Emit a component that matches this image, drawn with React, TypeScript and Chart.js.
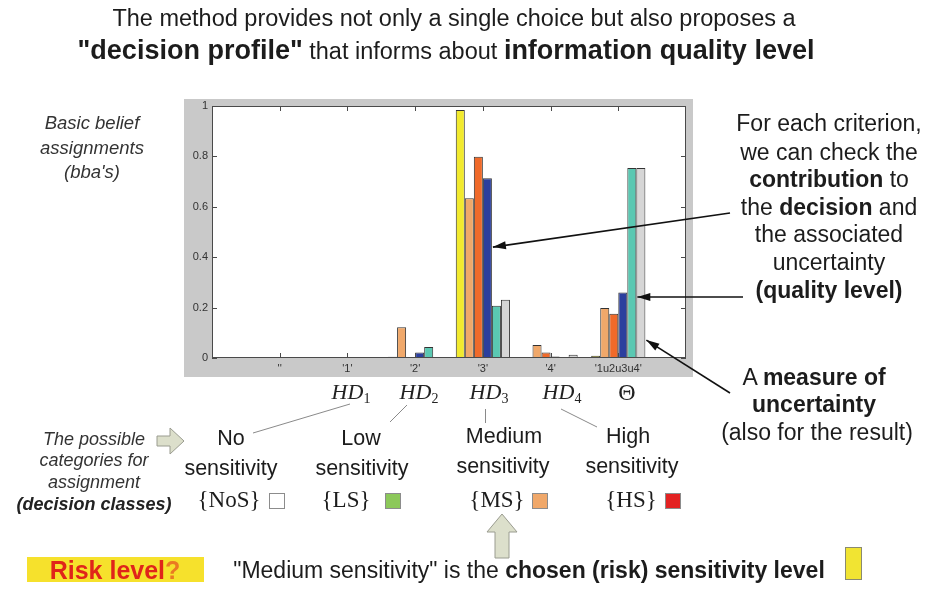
import React, { useEffect, useRef } from 'react';
import { Chart, registerables } from 'chart.js';
Chart.register(...registerables);

// ---- data ----
const categories = ["''", "'1'", "'2'", "'3'", "'4'", "'1u2u3u4'"];
const yTicks = [0, 0.2, 0.4, 0.6, 0.8, 1];
const bbaResult = [0, 0, 0.005, 0.984, 0.002, 0.009];
const bbaCrit1 = [0, 0, 0.122, 0.634, 0.052, 0.198];
const bbaCrit2 = [0, 0, 0.003, 0.799, 0.022, 0.176];
const bbaCrit3 = [0, 0, 0.022, 0.713, 0.006, 0.26];
const bbaCrit4 = [0, 0, 0.044, 0.207, 0, 0.754];
const bbaCrit5 = [0, 0, 0.002, 0.231, 0.013, 0.754];
const seriesNames = ['result', 'c1', 'c2', 'c3', 'c4', 'c5'];
const seriesColors = ['#f2ea2e', '#f0a86a', '#f06a2a', '#2b3f9e', '#5ac8b2', '#d6d6d6'];
// arrow targets: [dataset index, category index, value]
const arrowDecision = [3, 3, 0.44];
const arrowQuality = [4, 5, 0.242];
const arrowUncertainty = [5, 5, 0.071];

const SANS = '"Liberation Sans", Arial, Helvetica, sans-serif';
const SERIF = '"Liberation Serif", "Times New Roman", serif';

function line(ctx: CanvasRenderingContext2D, x1: number, y1: number, x2: number, y2: number) {
  ctx.beginPath();
  ctx.moveTo(x1, y1);
  ctx.lineTo(x2, y2);
  ctx.stroke();
}

function arrow(ctx: CanvasRenderingContext2D, x1: number, y1: number, x2: number, y2: number) {
  line(ctx, x1, y1, x2, y2);
  const a = Math.atan2(y2 - y1, x2 - x1);
  const L = 13, W = 4;
  const c = Math.cos(a), s = Math.sin(a);
  ctx.beginPath();
  ctx.moveTo(x2, y2);
  ctx.lineTo(x2 - L * c + W * s, y2 - L * s - W * c);
  ctx.lineTo(x2 - L * c - W * s, y2 - L * s + W * c);
  ctx.closePath();
  ctx.fill();
}

const framePlugin = {
  id: 'matlabFrame',
  beforeDraw(chart: any) {
    const { ctx, chartArea: a } = chart;
    ctx.save();
    ctx.fillStyle = '#ffffff';
    ctx.fillRect(0, 0, chart.width, chart.height);
    ctx.fillStyle = '#c9c9c9';
    ctx.fillRect(a.left - 28, a.top - 7, a.right - a.left + 35, a.bottom - a.top + 26);
    ctx.fillStyle = '#ffffff';
    ctx.fillRect(a.left, a.top, a.right - a.left, a.bottom - a.top);
    ctx.restore();
  },
  afterDatasetsDraw(chart: any) {
    const { ctx, chartArea: a, scales } = chart;
    ctx.save();
    ctx.strokeStyle = '#4a4a4a';
    ctx.lineWidth = 1;
    ctx.strokeRect(a.left + 0.5, a.top + 0.5, a.right - a.left - 1, a.bottom - a.top - 1);
    categories.forEach((_, i) => {
      const x = Math.round(scales.x.getPixelForValue(i + 1)) + 0.5;
      line(ctx, x, a.bottom, x, a.bottom - 5);
      line(ctx, x, a.top, x, a.top + 5);
    });
    yTicks.forEach((v) => {
      const y = Math.round(scales.y.getPixelForValue(v)) + 0.5;
      line(ctx, a.left, y, a.left + 5, y);
      line(ctx, a.right, y, a.right - 5, y);
    });
    ctx.restore();
  },
  afterDraw(chart: any) {
    const { ctx, scales } = chart;
    ctx.save();
    // pointer arrows
    ctx.strokeStyle = '#111';
    ctx.fillStyle = '#111';
    ctx.lineWidth = 1.6;
    const tgt = (t: number[]) => {
      const el = chart.getDatasetMeta(t[0]).data[t[1]];
      return [el.x + el.width / 2 + 1, scales.y.getPixelForValue(t[2])];
    };
    let p = tgt(arrowDecision);
    arrow(ctx, 730, 213, p[0], p[1]);
    p = tgt(arrowQuality);
    arrow(ctx, 743, p[1], p[0], p[1]);
    p = tgt(arrowUncertainty);
    arrow(ctx, 730, 393, p[0], p[1]);

    // connectors from HD labels to the category names
    ctx.strokeStyle = '#8a8a8a';
    ctx.lineWidth = 1;
    line(ctx, 350, 404, 253, 433);
    line(ctx, 407, 405, 390, 422);
    line(ctx, 485.5, 409, 485.5, 423);
    line(ctx, 561, 409, 597, 427);

    // block arrow (right)
    ctx.fillStyle = '#dcdfcb';
    ctx.strokeStyle = '#9a9c90';
    ctx.beginPath();
    ctx.moveTo(157, 436);
    ctx.lineTo(170, 436);
    ctx.lineTo(170, 428);
    ctx.lineTo(184, 441);
    ctx.lineTo(170, 454);
    ctx.lineTo(170, 446);
    ctx.lineTo(157, 446);
    ctx.closePath();
    ctx.fill();
    ctx.stroke();

    // block arrow (up)
    ctx.beginPath();
    ctx.moveTo(502, 514);
    ctx.lineTo(517, 532);
    ctx.lineTo(509, 532);
    ctx.lineTo(509, 558);
    ctx.lineTo(495, 558);
    ctx.lineTo(495, 532);
    ctx.lineTo(487, 532);
    ctx.closePath();
    ctx.fill();
    ctx.stroke();

    // yellow result marker
    ctx.fillStyle = '#f1e432';
    ctx.strokeStyle = '#8a8a70';
    ctx.fillRect(845, 547, 17, 33);
    ctx.strokeRect(845.5, 547.5, 16, 32);
    ctx.restore();
  },
};

type TProps = { x: number; y: number; size: number; children: React.ReactNode; style?: React.CSSProperties };
function T({ x, y, size, children, style }: TProps) {
  return (
    <div
      style={{
        position: 'absolute',
        left: x,
        top: y,
        transform: 'translate(-50%, -50%)',
        fontSize: size,
        lineHeight: 1,
        whiteSpace: 'nowrap',
        ...style,
      }}
    >
      {children}
    </div>
  );
}

function HD({ x, n }: { x: number; n: string }) {
  return (
    <T x={x} y={392} size={22} style={{ fontFamily: SERIF, color: '#222' }}>
      <span style={{ fontStyle: 'italic' }}>HD</span>
      <span style={{ fontSize: 14, position: 'relative', top: 4 }}>{n}</span>
    </T>
  );
}

function Sq({ x, color }: { x: number; color: string }) {
  return (
    <div
      style={{
        position: 'absolute',
        left: x - 8,
        top: 493,
        width: 16,
        height: 16,
        boxSizing: 'border-box',
        background: color,
        border: '1px solid #8c8c8c',
      }}
    />
  );
}

export default function App() {
  const ref = useRef<HTMLCanvasElement>(null);
  useEffect(() => {
    if (!ref.current) return;
    const series = [bbaResult, bbaCrit1, bbaCrit2, bbaCrit3, bbaCrit4, bbaCrit5];
    const chart = new Chart(ref.current, {
      type: 'bar',
      data: {
        labels: categories.map((_, i) => i + 1),
        datasets: series.map((d, i) => ({
          label: seriesNames[i],
          data: d,
          backgroundColor: seriesColors[i],
          borderColor: '#333333',
          borderWidth: 1,
          borderSkipped: false,
          categoryPercentage: 0.8,
          barPercentage: 1.0,
        })),
      },
      options: {
        animation: false,
        responsive: false,
        devicePixelRatio: 1,
        layout: { padding: { left: 182, top: 106, right: 249, bottom: 214 } },
        plugins: { legend: { display: false }, tooltip: { enabled: false } },
        scales: {
          x: {
            type: 'linear',
            min: 0,
            max: 7,
            offset: false,
            grid: { display: false, drawTicks: false, offset: false },
            border: { display: false },
            ticks: {
              stepSize: 1,
              autoSkip: false,
              maxRotation: 0,
              padding: 4,
              color: '#333',
              font: { family: SANS, size: 11 },
              callback: (v: any) => (v >= 1 && v <= categories.length ? categories[v - 1] : ''),
            },
            afterFit: (s: any) => {
              s.height = 20;
            },
          },
          y: {
            min: 0,
            max: 1,
            grid: { display: false, drawTicks: false },
            border: { display: false },
            ticks: {
              stepSize: 0.2,
              padding: 4,
              color: '#333',
              font: { family: SANS, size: 11 },
              callback: (v: any) => String(Math.round(Number(v) * 10) / 10),
            },
            afterFit: (s: any) => {
              s.width = 30;
            },
          },
        },
      },
      plugins: [framePlugin],
    } as any);
    return () => chart.destroy();
  }, []);

  const dark = '#1c1c1c';
  return (
    <div
      style={{
        position: 'fixed',
        left: 0,
        top: 0,
        width: 935,
        height: 592,
        background: '#fff',
        fontFamily: SANS,
        color: dark,
        overflow: 'hidden',
      }}
    >
      <canvas ref={ref} width={935} height={592} style={{ position: 'absolute', left: 0, top: 0 }} />

      <T x={454} y={19} size={23.5}>The method provides not only a single choice but also proposes a</T>
      <T x={446} y={50} size={23.5}>
        <b style={{ fontSize: 27 }}>"decision profile"</b> that informs about{' '}
        <b style={{ fontSize: 27 }}>information quality level</b>
      </T>

      <T x={92} y={123} size={18.5} style={{ fontStyle: 'italic', color: '#333' }}>Basic belief</T>
      <T x={92} y={148} size={18.5} style={{ fontStyle: 'italic', color: '#333' }}>assignments</T>
      <T x={92} y={172} size={18.5} style={{ fontStyle: 'italic', color: '#333' }}>(bba's)</T>

      <T x={829} y={123} size={23}>For each criterion,</T>
      <T x={829} y={152} size={23}>we can check the</T>
      <T x={829} y={179} size={23}><b>contribution</b> to</T>
      <T x={829} y={207} size={23}>the <b>decision</b> and</T>
      <T x={829} y={234} size={23}>the associated</T>
      <T x={829} y={262} size={23}>uncertainty</T>
      <T x={829} y={290} size={23}><b>(quality level)</b></T>

      <T x={814} y={377} size={23}>A <b>measure of</b></T>
      <T x={814} y={404} size={23}><b>uncertainty</b></T>
      <T x={817} y={432} size={23}>(also for the result)</T>

      <HD x={351} n="1" />
      <HD x={419} n="2" />
      <HD x={489} n="3" />
      <HD x={562} n="4" />
      <T x={627} y={392} size={24} style={{ fontFamily: SERIF, color: '#222' }}>Θ</T>

      <T x={94} y={439} size={18} style={{ fontStyle: 'italic', color: '#333' }}>The possible</T>
      <T x={94} y={460} size={18} style={{ fontStyle: 'italic', color: '#333' }}>categories for</T>
      <T x={94} y={482} size={18} style={{ fontStyle: 'italic', color: '#333' }}>assignment</T>
      <T x={94} y={504} size={18} style={{ fontStyle: 'italic', fontWeight: 'bold', color: '#222' }}>(decision classes)</T>

      <T x={231} y={439} size={21.5}>No</T>
      <T x={231} y={469} size={21.5}>sensitivity</T>
      <T x={361} y={439} size={21.5}>Low</T>
      <T x={362} y={469} size={21.5}>sensitivity</T>
      <T x={504} y={437} size={21.5}>Medium</T>
      <T x={503} y={467} size={21.5}>sensitivity</T>
      <T x={628} y={437} size={21.5}>High</T>
      <T x={632} y={467} size={21.5}>sensitivity</T>

      <T x={229} y={499} size={23} style={{ fontFamily: SERIF }}>{'{NoS}'}</T>
      <Sq x={277} color="#ffffff" />
      <T x={346} y={499} size={23} style={{ fontFamily: SERIF }}>{'{LS}'}</T>
      <Sq x={393} color="#8cc85a" />
      <T x={497} y={499} size={23} style={{ fontFamily: SERIF }}>{'{MS}'}</T>
      <Sq x={540} color="#f0a86a" />
      <T x={631} y={499} size={23} style={{ fontFamily: SERIF }}>{'{HS}'}</T>
      <Sq x={673} color="#e32222" />

      <div style={{ position: 'absolute', left: 27, top: 557, width: 177, height: 25, background: '#f6e12c' }} />
      <T x={115} y={570} size={25} style={{ fontWeight: 'bold', color: '#e0241a' }}>
        Risk level<span style={{ color: '#ea7a22' }}>?</span>
      </T>
      <T x={529} y={570} size={23}>
        "Medium sensitivity" is the <b>chosen (risk) sensitivity level</b>
      </T>
    </div>
  );
}
